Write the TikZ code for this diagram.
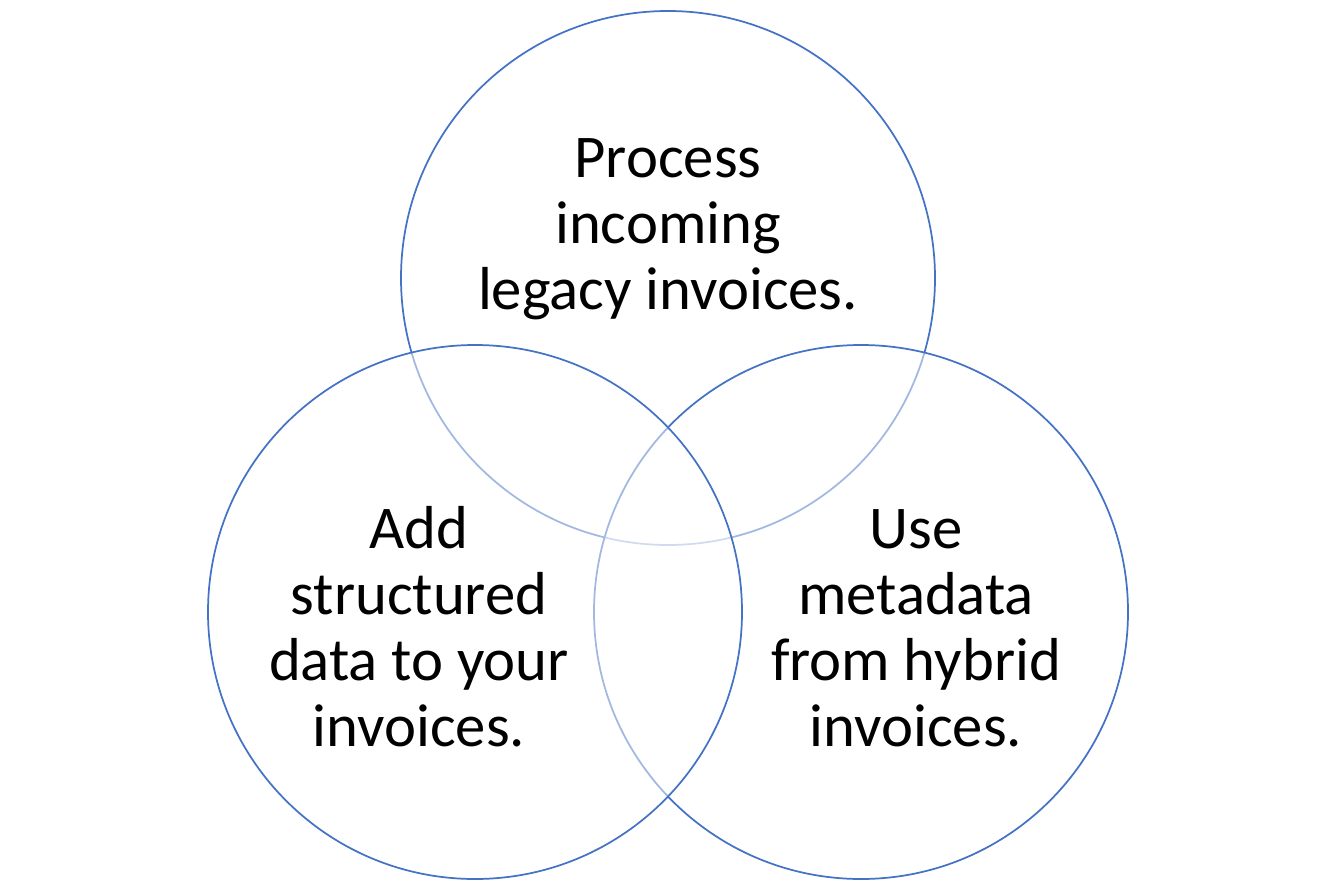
\documentclass[tikz,border=0pt]{standalone}
\usepackage{fontspec}
\setmainfont{Carlito}
\definecolor{vennblue}{HTML}{4472C4}
\begin{document}
\begin{tikzpicture}[x=0.75pt,y=-0.75pt,
  venn/.style={circle, draw=vennblue, line width=1.3pt, fill=white, fill opacity=0.5, draw opacity=1, minimum size=400.5pt, inner sep=0pt, outer sep=0pt},
  label/.style={align=center, font=\fontsize{45.5}{49.5}\selectfont, text=black, inner sep=0pt, anchor=base}]
\useasboundingbox (0,0) rectangle (1335,889);
\node[venn] (ctop) at (668,278) {};
\node[venn] (cright) at (861,612) {};
\node[venn] (cleft) at (475,612) {};
\node[label] (ttop) at (668,309) {Process\\incoming\\legacy invoices.};
\node[label] (tleft) at (419,746) {Add\\structured\\data to your\\invoices.};
\node[label] (tright) at (916,746) {Use\\metadata\\from hybrid\\invoices.};
\end{tikzpicture}
\end{document}
